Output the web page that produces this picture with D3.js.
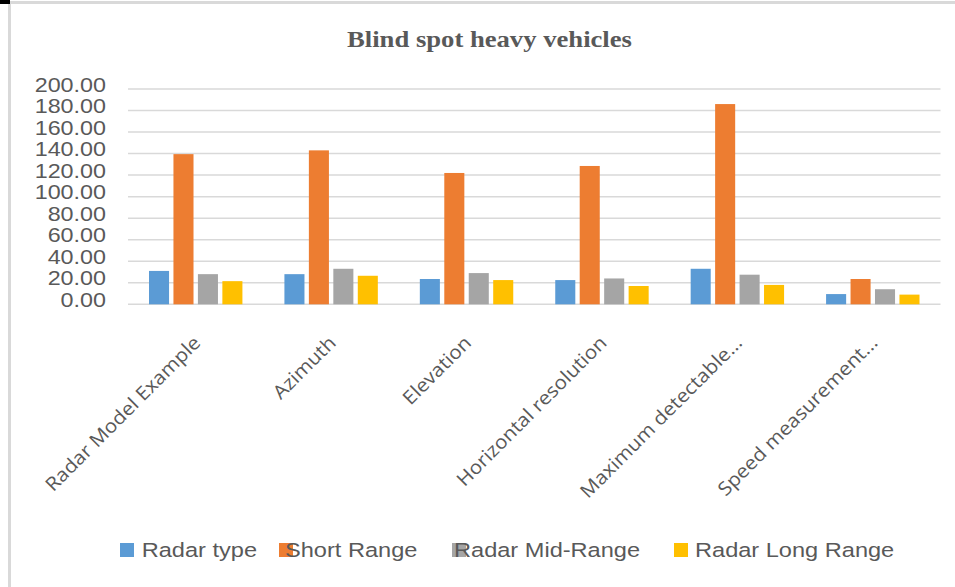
<!DOCTYPE html>
<html><head><meta charset="utf-8">
<script src="https://cdn.jsdelivr.net/npm/d3@7"></script>
<style>body{margin:0;background:#fff}svg{display:block}</style>
</head><body><svg id="c" width="955" height="587"></svg>
<script>
const categories = ["Radar Model Example","Azimuth","Elevation","Horizontal resolution","Maximum detectable...","Speed measurement..."];
const seriesNames = ["Radar type","Short Range","Radar Mid-Range","Radar Long Range"];
const radarType  = [31, 28, 23.5, 22.5, 33, 9.5];
const shortRange = [139.5, 143, 122, 128.5, 186, 23.5];
const midRange   = [28, 33, 29, 24, 27.5, 14];
const longRange  = [21.5, 26.5, 22.5, 17, 18, 9];
const yTicks = [0,20,40,60,80,100,120,140,160,180,200];
const colors = ["#5B9BD5","#ED7D31","#A5A5A5","#FFC000"];
const chartTitle = "Blind spot heavy vehicles";

const seriesValues = [radarType, shortRange, midRange, longRange];
const svg = d3.select("#c");
const textColor = "#595959";

// frame
svg.append("rect").attr("x",0).attr("y",0).attr("width",10).attr("height",4).attr("fill","#000");
svg.append("rect").attr("x",10).attr("y",1).attr("width",945).attr("height",3).attr("fill","#d9d9d9");
svg.append("rect").attr("x",8).attr("y",4).attr("width",3).attr("height",583).attr("fill","#d9d9d9");

const pLeft = 128, pRight = 940.5, pTop = 89, pBottom = 304.3;
const y = d3.scaleLinear().domain([0,200]).range([pBottom, pTop]);
const x0 = d3.scaleBand().domain(categories).range([pLeft, pRight]).padding(0);
const groupPad = 21;
const x1 = d3.scaleBand().domain(seriesNames).range([groupPad, x0.bandwidth()-groupPad]).paddingInner(0.18).paddingOuter(0);

function stretch(sel, f){
  sel.each(function(){
    const w = this.getComputedTextLength();
    this.setAttribute("textLength", w*f);
    this.setAttribute("lengthAdjust","spacingAndGlyphs");
  });
}

// gridlines
svg.append("g").selectAll("line").data(yTicks).join("line")
  .attr("x1", pLeft).attr("x2", pRight)
  .attr("y1", d=>y(d)).attr("y2", d=>y(d))
  .attr("stroke","#d9d9d9").attr("stroke-width",1.5);

// y labels
const yl = svg.append("g").selectAll("text").data(yTicks).join("text")
  .attr("x", 106).attr("y", d=>y(d)+2.7)
  .attr("text-anchor","end")
  .attr("font-family","'Liberation Sans', Arial, sans-serif")
  .attr("font-size",21).attr("fill",textColor)
  .text(d=>d3.format(".2f")(d));
stretch(yl, 1.11);

// bars
const rows = categories.map((c,i)=>({c, vals: seriesNames.map((s,j)=>({s, v: seriesValues[j][i], j}))}));
svg.append("g").selectAll("g").data(rows).join("g")
  .attr("transform", d=>`translate(${x0(d.c)},0)`)
  .selectAll("rect").data(d=>d.vals).join("rect")
  .attr("x", d=>x1(d.s)).attr("width", x1.bandwidth())
  .attr("y", d=>y(d.v)).attr("height", d=>y(0)-y(d.v))
  .attr("fill", d=>colors[d.j]);

// category labels
const cl = svg.append("g").selectAll("text").data(categories).join("text")
  .attr("transform", d=>`translate(${x0(d)+x0.bandwidth()/2+6},344) rotate(-45)`)
  .attr("text-anchor","end")
  .attr("font-family","'Open Sans', sans-serif")
  .attr("font-size",19).attr("fill",textColor)
  .text(d=>d);
stretch(cl, 1.085);

// title
const tt = svg.append("text").attr("x",489.5).attr("y",46.7).attr("text-anchor","middle")
  .attr("font-family","'Liberation Serif', 'Times New Roman', serif").attr("font-weight","bold")
  .attr("font-size",24).attr("fill",textColor).text(chartTitle);
stretch(tt, 1.11);

// legend
const legMarkX = [120,279,452,674];
const legTextX = [141.7,285,454,695];
const lg = svg.append("g");
lg.selectAll("rect").data(seriesNames).join("rect")
  .attr("x",(d,i)=>legMarkX[i]).attr("y",543).attr("width",14).attr("height",14)
  .attr("fill",(d,i)=>colors[i]);
const lt = lg.selectAll("text").data(seriesNames).join("text")
  .attr("x",(d,i)=>legTextX[i]).attr("y",557)
  .attr("font-family","'Liberation Sans', Arial, sans-serif")
  .attr("font-size",20.5).attr("fill",textColor).text(d=>d);
stretch(lt, 1.15);
</script></body></html>
